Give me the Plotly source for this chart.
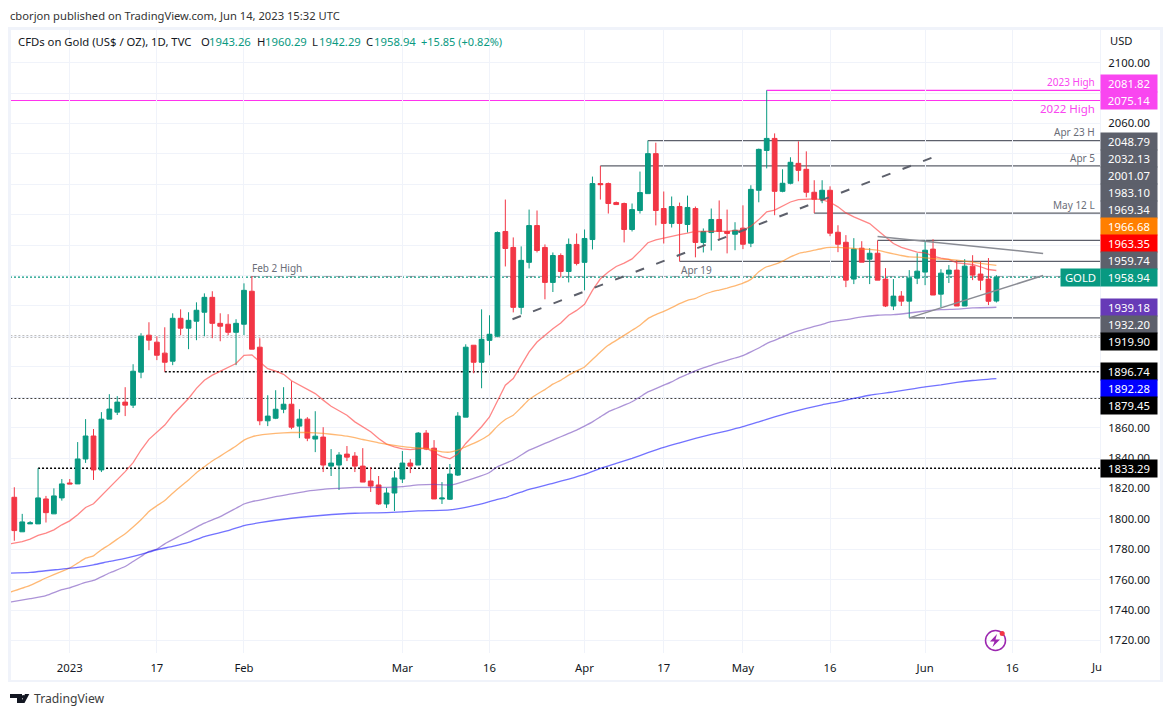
import plotly.graph_objects as go

# daily candles
opens = [1814.2,1791.5,1796.7,1796.7,1813.1,1803.3,1813.8,1823.6,1823.0,1839.4,
         1854.5,1832.2,1865.6,1870.2,1876.8,1874.8,1896.5,1920.8,1916.2,1909.0,
         1903.7,1931.9,1925.4,1930.0,1935.9,1945.7,1928.6,1928.0,1922.7,1928.0,
         1949.7,1912.9,1864.5,1866.2,1872.1,1875.4,1861.0,1865.6,1852.5,1853.8,
         1834.7,1835.4,1842.6,1841.3,1834.7,1824.9,1822.3,1809.8,1817.0,1826.2,
         1836.7,1835.4,1856.4,1846.5,1813.1,1812.9,1828.8,1866.9,1914.2,1903.0,
         1917.4,1920.1,1989.0,1978.5,1939.1,1968.7,1992.9,1978.5,1955.5,1973.2,
         1962.7,1980.5,1968.7,1983.7,2020.5,2020.5,2008.0,2007.4,1990.3,2002.8,
         2013.9,2040.2,2004.1,1994.3,2005.4,1993.6,2004.1,1981.8,1988.3,1996.9,
         1989.0,1987.2,1991.2,1981.3,2016.1,2042.3,2050.2,2015.4,2020.7,2033.8,
         2029.9,2014.8,2010.2,2016.1,1988.5,1981.9,1957.7,1978.0,1970.8,1974.7,
         1957.7,1940.0,1946.5,1943.2,1958.3,1962.3,1977.4,1947.8,1961.0,1963.6,
         1940.0,1966.2,1961.0,1957.7,1943.26]
highs = [1820.8,1803.3,1798.5,1833.3,1815.1,1820.1,1826.2,1826.2,1850.5,1865.6,
         1859.1,1870.2,1882.0,1880.7,1886.6,1901.7,1922.1,1929.3,1920.1,1926.0,
         1935.2,1937.8,1935.9,1942.4,1948.3,1949.7,1935.2,1934.6,1931.3,1954.9,
         1959.74,1918.8,1881.3,1884.6,1886.6,1890.5,1872.1,1866.9,1870.8,1860.3,
         1845.9,1843.9,1847.9,1843.9,1846.5,1834.1,1828.2,1820.3,1831.4,1844.6,
         1839.3,1857.1,1858.4,1851.8,1824.2,1836.1,1870.2,1914.8,1914.2,1937.8,
         1933.9,1989.0,2010.0,1985.1,1979.2,2003.4,2002.8,1980.5,1975.2,1974.6,
         1984.4,1987.7,1990.3,2025.1,2032.13,2021.2,2008.7,2008.0,2007.4,2028.4,
         2048.79,2047.4,2015.3,2012.0,2008.0,2012.6,2005.4,1991.0,2004.1,2009.4,
         2003.4,1995.1,2006.2,2019.4,2043.5,2081.82,2053.5,2029.9,2037.8,2048.3,
         2041.7,2022.7,2022.7,2018.7,1993.1,1986.6,1984.6,1982.6,1978.0,1983.1,
         1964.9,1957.7,1949.8,1963.6,1974.7,1983.3,1983.9,1964.2,1966.9,1970.2,
         1970.8,1973.4,1969.5,1971.5,1960.29]
lows = [1785.6,1791.5,1796.7,1796.7,1797.6,1803.3,1812.0,1823.0,1823.0,1836.8,
        1825.6,1830.8,1865.6,1868.3,1867.6,1872.9,1892.5,1910.9,1904.4,1896.74,
        1901.1,1920.8,1911.6,1917.5,1920.1,1918.8,1916.8,1920.8,1901.1,1920.8,
        1911.6,1861.6,1861.0,1865.6,1869.5,1859.0,1853.1,1851.1,1843.9,1830.8,
        1828.2,1819.0,1838.0,1830.8,1824.2,1817.7,1809.1,1807.2,1805.2,1823.6,
        1830.1,1835.4,1845.2,1813.1,1809.8,1812.4,1828.2,1866.9,1895.8,1885.9,
        1907.6,1919.4,1966.0,1935.8,1934.5,1964.7,1975.2,1944.4,1949.2,1958.8,
        1955.5,1966.7,1950.3,1977.2,2010.0,2000.8,2006.7,1981.8,1989.0,2000.8,
        2013.9,1993.0,1981.1,1991.6,1969.34,1988.3,1972.0,1975.2,1976.5,1983.1,
        1974.6,1976.7,1977.4,1978.7,2008.2,2030.5,1999.7,2014.8,2020.0,2022.0,
        2011.5,2001.07,2007.6,1985.9,1975.4,1952.4,1954.4,1968.8,1954.4,1957.0,
        1939.3,1937.3,1940.0,1932.2,1954.4,1953.7,1947.2,1939.3,1955.1,1940.0,
        1940.0,1957.0,1950.4,1940.6,1942.29]
closes = [1792.3,1798.0,1797.4,1813.8,1804.1,1815.1,1823.0,1823.0,1839.4,1854.5,
          1832.2,1865.6,1872.2,1876.8,1874.8,1897.1,1920.1,1917.5,1907.6,1903.0,
          1931.9,1925.4,1930.6,1937.2,1945.7,1928.6,1926.7,1922.7,1928.6,1950.3,
          1911.6,1864.5,1867.6,1872.1,1875.4,1860.3,1865.6,1853.1,1854.4,1835.4,
          1836.7,1842.0,1840.6,1834.7,1824.2,1821.6,1809.8,1817.0,1826.9,1836.7,
          1834.7,1856.4,1845.9,1813.1,1813.7,1829.5,1867.6,1912.9,1903.0,1918.1,
          1921.4,1988.3,1977.8,1939.1,1970.0,1992.9,1976.5,1955.5,1973.2,1962.7,
          1980.5,1968.0,1984.4,2020.5,2019.8,2007.4,2006.7,1990.3,2003.4,2014.6,
          2040.2,2002.8,1994.3,2005.4,1994.3,2004.8,1981.8,1989.0,1996.9,1989.0,
          1987.7,1989.8,1980.6,2016.7,2043.0,2050.2,2015.4,2020.7,2034.5,2029.2,
          2014.8,2010.2,2016.1,1987.9,1980.6,1957.0,1977.4,1968.8,1974.7,1957.0,
          1940.0,1946.5,1943.2,1958.3,1962.9,1976.7,1947.2,1961.6,1963.6,1940.0,
          1966.2,1960.3,1957.0,1943.1,1958.94]
bars = list(range(len(closes)))

# moving averages
red_bars = list(range(-1, 125))
red_values = [1783.2,1784.1,1785.0,1786.7,1789.1,1790.6,1792.8,1796.1,1798.7,1802.7,1807.5,
              1809.9,1815.1,1820.2,1825.6,1831.1,1837.0,1845.3,1852.3,1857.3,1861.7,
              1868.3,1873.7,1879.2,1885.8,1891.2,1894.5,1897.1,1899.5,1902.2,1907.6,
              1907.9,1903.2,1898.8,1897.1,1895.1,1890.8,1887.9,1885.3,1882.4,1878.1,
              1874.1,1871.1,1868.2,1863.8,1860.6,1857.3,1852.9,1849.2,1847.4,1846.1,
              1845.5,1846.3,1846.6,1843.5,1840.9,1839.5,1842.6,1849.6,1855.1,1860.6,
              1867.0,1878.0,1887.9,1892.3,1901.0,1909.8,1916.3,1920.7,1925.1,1928.8,
              1933.9,1937.1,1941.1,1950.3,1957.9,1962.3,1966.0,1968.2,1971.0,1976.1,
              1981.6,1983.5,1984.6,1986.2,1987.0,1987.9,1989.0,1989.0,1989.2,1989.2,
              1989.0,1989.7,1989.7,1992.5,1996.8,2001.9,2003.0,2005.6,2008.4,2010.0,
              2010.4,2010.4,2010.0,2008.2,2005.2,2001.2,1998.6,1996.4,1994.2,1989.8,
              1985.5,1981.1,1978.5,1976.7,1975.4,1975.0,1972.8,1971.5,1970.6,1968.4,
              1968.0,1967.3,1965.8,1964.0,1963.35]
orange_bars = [-1,2,4,6,7,8,9,10,11,12,13,14,15,16,17,18,19,20,21,22,23,24,25,26,27,28,29,30,31,32,
               34,35,37,38,39,41,42,44,46,48,50,52,54,55,56,57,58,59,60,61,62,63,64,65,66,67,68,69,
               70,71,72,73,74,75,76,77,78,79,80,81,82,83,84,85,86,87,88,89,90,91,92,93,94,95,96,97,
               98,99,100,101,102,103,104,105,106,107,108,109,110,111,112,113,114,115,116,117,118,
               119,120,121,122,123,124]
orange_values = [1751.0,1756.3,1761.1,1765.5,1767.7,1770.9,1774.2,1775.7,1779.7,1783.0,1786.7,1790.2,
                 1794.6,1799.4,1804.9,1808.6,1812.1,1816.9,1821.3,1825.6,1830.4,1834.3,1838.1,1841.3,
                 1844.6,1847.9,1851.8,1854.0,1855.1,1855.7,1856.6,1856.8,1856.8,1856.6,1856.2,1855.1,
                 1854.4,1852.2,1850.0,1848.3,1847.0,1846.3,1844.1,1843.9,1845.2,1847.4,1849.6,1852.2,
                 1855.5,1861.0,1865.4,1868.2,1873.2,1878.5,1882.0,1885.0,1888.6,1891.2,1894.5,1897.3,
                 1899.9,1904.8,1909.8,1914.2,1917.4,1920.7,1924.0,1927.3,1931.7,1934.3,1936.5,1938.9,
                 1941.5,1943.7,1945.0,1947.4,1949.2,1950.5,1951.8,1953.3,1955.0,1957.5,1962.5,1965.8,
                 1967.3,1969.5,1972.3,1974.5,1975.6,1976.7,1977.8,1978.5,1978.5,1978.2,1977.8,1977.4,
                 1977.2,1976.7,1975.4,1974.3,1973.2,1972.3,1972.1,1971.7,1971.2,1970.8,1970.6,1970.1,
                 1969.5,1968.8,1968.0,1967.3,1966.68]
purple_bars = [-1,2,4,6,7,9,10,12,14,15,16,17,18,19,21,23,24,26,28,29,30,31,33,35,37,39,41,43,45,47,49,
               51,53,55,56,58,60,61,62,63,64,65,66,67,68,69,70,71,72,73,74,75,76,77,78,79,80,81,82,83,
               84,85,86,87,88,89,90,91,92,93,94,95,96,97,98,99,100,101,102,103,105,107,109,111,113,115,
               117,119,121,124]
purple_values = [1744.8,1747.5,1749.5,1753.4,1754.7,1758.2,1759.5,1764.4,1768.7,1772.0,1775.3,1778.6,
                 1780.1,1783.6,1789.1,1794.6,1797.2,1801.5,1807.0,1809.8,1811.4,1812.4,1814.6,1816.4,
                 1818.3,1819.4,1820.1,1820.7,1820.7,1820.7,1821.2,1822.3,1822.7,1822.3,1823.4,1826.6,
                 1830.5,1834.3,1836.5,1838.7,1842.0,1845.2,1847.4,1849.6,1851.8,1854.0,1856.2,1858.4,
                 1861.0,1863.8,1867.1,1870.4,1872.6,1874.8,1877.0,1880.2,1883.5,1885.7,1887.9,1890.1,
                 1892.9,1895.1,1897.3,1899.3,1901.0,1902.8,1904.3,1905.8,1907.4,1909.8,1912.4,1915.3,
                 1917.4,1919.6,1921.8,1923.6,1925.1,1926.6,1927.9,1929.5,1931.0,1932.8,1933.9,1934.3,
                 1935.4,1936.7,1937.6,1938.0,1938.7,1939.18]
blue_bars = [-1,2,6,8,10,12,14,16,18,20,22,24,27,29,31,35,39,43,47,51,55,57,59,61,62,63,64,65,68,70,72,
             74,76,78,80,82,84,86,88,90,92,94,96,98,100,102,104,106,108,111,113,115,117,119,121,124]
blue_values = [1764.3,1764.8,1767.0,1768.1,1769.8,1772.0,1774.0,1776.6,1779.7,1781.9,1784.5,1788.4,
               1792.3,1795.6,1797.5,1800.4,1802.4,1803.7,1804.1,1805.2,1805.9,1807.6,1809.8,1812.9,
               1814.0,1816.0,1817.6,1819.4,1823.4,1826.2,1829.3,1833.2,1836.5,1839.8,1843.5,1847.0,
               1850.0,1852.9,1855.5,1857.9,1860.6,1863.8,1867.1,1870.0,1872.6,1875.0,1877.0,1879.2,
               1881.3,1883.5,1885.1,1886.8,1888.1,1889.7,1891.0,1892.28]

# horizontal levels: start bar, price
solid_gray_bars = [80, 74, 101, 109, 84, 113]
solid_gray_levels = [2048.79, 2032.13, 2001.07, 1983.10, 1969.34, 1932.20]
pink_bars = [95, -1]
pink_levels = [2081.82, 2075.14]
black_bars = [-1, 19, -1, 3]
black_levels = [1919.90, 1896.74, 1879.45, 1833.29]
feb_high_bar = 30
feb_high_level = 1959.74
last_close = 1958.94

# trend lines: bar0, price0, bar1, price1
dashed_trend = [62.9, 1931.3, 115.8, 2037.4]
falling_trend = [109, 1985.7, 129.9, 1974.6]
rising_trend = [113, 1932.2, 129.9, 1960.0]

x_tick_bars = [7, 18, 29, 49, 60, 72, 82, 92, 103, 115, 126, 137]
x_tick_labels = ["2023", "17", "Feb", "Mar", "16", "Apr", "17", "May", "16", "Jun", "16", ""]
y_tick_values = list(range(1720, 2101, 20))
# labels that sit fully under a price box stay blank
y_tick_hidden = [1880, 1920, 1940, 1960, 1980, 2000, 2020, 2080]
y_tick_labels = ["" if v in y_tick_hidden else f"{v}.00" for v in y_tick_values]

# boxes on the price scale, de-collided like on the original
box_labels = ["2081.82", "2075.14", "2048.79", "2032.13", "2001.07", "1983.10", "1969.34", "1966.68",
              "1963.35", "1959.74", "1958.94", "1939.18", "1932.20", "1919.90", "1896.74", "1892.28",
              "1879.45", "1833.29"]
box_colors = ["#f946f0", "#f946f0", "#5d606b", "#5d606b", "#5d606b", "#5d606b", "#5d606b", "#ff7f00",
              "#ff0000", "#5d606b", "#089981", "#673ab7", "#5d606b", "#000000", "#000000", "#0000ff",
              "#000000", "#000000"]
box_y = [83, 100.4, 141, 158.7, 175.7, 192.7, 209.7, 226.7, 243.7, 260.7, 277.7, 307.7, 324.7, 341.7,
         371.7, 388.7, 405.5, 468.7]

note_labels = ["2023 High", "2022 High", "Apr 23 H", "Apr 5", "May 12 L"]
note_colors = ["#f946f0", "#f946f0", "#6a6d78", "#6a6d78", "#6a6d78"]
note_y = [81.7, 109, 131.7, 157.7, 204.7]
note_size = [10, 11.5, 10, 10, 10]

FONT = "Noto Sans"
GREEN = "#089981"
RED = "#f23645"
FRAME = "#f0f3fa"
GRID = "#f0f3fa"
TEXT = "#131722"

# plot area in page pixels
L, R, T, B = 10, 1100, 30, 653
y_top = 2121.5
y_bottom = 1711.8
x_left = (L - 14.3) / 7.92
x_right = (R - 14.3) / 7.92


def px(x):
    return (x - L) / (R - L)


def py(y):
    return (B - y) / (B - T)


fig = go.Figure()

fig.add_trace(go.Candlestick(
    x=bars, open=opens, high=highs, low=lows, close=closes,
    increasing=dict(line=dict(color=GREEN, width=1), fillcolor=GREEN),
    decreasing=dict(line=dict(color=RED, width=1), fillcolor=RED),
    whiskerwidth=0, showlegend=False, hoverinfo="skip"
))

fig.add_trace(go.Scatter(x=red_bars, y=red_values, mode="lines", line=dict(color="rgba(255,60,60,0.62)", width=1.3), showlegend=False))
fig.add_trace(go.Scatter(x=orange_bars, y=orange_values, mode="lines", line=dict(color="rgba(255,140,30,0.62)", width=1.3, shape="spline", smoothing=0.5), showlegend=False))
fig.add_trace(go.Scatter(x=purple_bars, y=purple_values, mode="lines", line=dict(color="rgba(103,58,183,0.55)", width=1.3, shape="spline", smoothing=0.5), showlegend=False))
fig.add_trace(go.Scatter(x=blue_bars, y=blue_values, mode="lines", line=dict(color="rgba(20,20,255,0.6)", width=1.3, shape="spline", smoothing=0.5), showlegend=False))

shapes = []


def hline(bar, level, color, dash="solid", width=1.2):
    shapes.append(dict(type="line", xref="x", yref="y", x0=bar, x1=x_right, y0=level, y1=level,
                       line=dict(color=color, width=width, dash=dash), layer="below"))


for b, v in zip(solid_gray_bars, solid_gray_levels):
    hline(b, v, "#5d606b")
for b, v in zip(pink_bars, pink_levels):
    hline(b, v, "#ff33ee")
for b, v in zip(black_bars, black_levels):
    hline(b, v, "#000000", dash="2px,2px", width=1.5)
hline(x_left, last_close, GREEN, dash="2px,2px", width=1.2)
hline(feb_high_bar, feb_high_level, "#5d606b", dash="7px,5px", width=1.2)

for t, color, dash, w in [(dashed_trend, "#5d606b", "9px,13px", 2),
                          (falling_trend, "#8a8c94", "solid", 1.5),
                          (rising_trend, "#8a8c94", "solid", 1.5)]:
    shapes.append(dict(type="line", xref="x", yref="y", x0=t[0], y0=t[1], x1=t[2], y1=t[3],
                       line=dict(color=color, width=w, dash=dash), layer="above"))

# frame around the chart
for x0, y0, x1, y1 in [(8, 27, 11, 682), (1160, 27, 1163, 682), (8, 27, 1163, 30), (8, 680, 1163, 682)]:
    shapes.append(dict(type="rect", xref="paper", yref="paper", x0=px(x0), x1=px(x1), y0=py(y0), y1=py(y1),
                       fillcolor=FRAME, line=dict(width=0), layer="above"))

# lightning badge
shapes.append(dict(type="circle", xref="paper", yref="paper", x0=px(985.5), x1=px(1005.5), y0=py(650.5), y1=py(630.5),
                   line=dict(color="#9c27b0", width=1.5), fillcolor="rgba(0,0,0,0)"))
bolt = [(997, 634), (990, 641.5), (994.5, 641.5), (992.5, 647), (1000, 639.5), (995.5, 639.5)]
shapes.append(dict(type="path", xref="paper", yref="paper",
                   path="M" + "L".join(f"{px(a):.5f},{py(b):.5f}" for a, b in bolt) + "Z",
                   fillcolor="#9c27b0", line=dict(width=0)))
shapes.append(dict(type="circle", xref="paper", yref="paper", x0=px(999.7), x1=px(1004.7), y0=py(636), y1=py(631),
                   fillcolor=RED, line=dict(width=0)))

# TradingView logo
logo = [[(10, 694), (22, 694), (22, 703), (17, 703), (17, 698), (10, 698)],
        [(29.3, 694), (24.5, 703), (20.5, 703), (25, 694)]]
for part in logo:
    shapes.append(dict(type="path", xref="paper", yref="paper",
                       path="M" + "L".join(f"{px(a):.5f},{py(b):.5f}" for a, b in part) + "Z",
                       fillcolor="#131722", line=dict(width=0)))
shapes.append(dict(type="circle", xref="paper", yref="paper", x0=px(21.5), x1=px(25), y0=py(698.5), y1=py(695),
                   fillcolor="#131722", line=dict(width=0)))

annotations = []


def text_at(x, y, text, color=TEXT, size=12, anchor="left", **kw):
    annotations.append(dict(xref="paper", yref="paper", x=px(x), y=py(y), text=text, showarrow=False,
                            xanchor=anchor, yanchor="middle", align=anchor,
                            font=dict(family=FONT, size=size, color=color), **kw))


text_at(8, 15, "cborjon published on TradingView.com, Jun 14, 2023 15:32 UTC", color="#333333", size=11.2)
text_at(16, 41.5, "CFDs on Gold (US$ / OZ), 1D, TVC", size=11.3)
header_labels = ["O", "H", "L", "C"]
header_values = ["1943.26", "1960.29", "1942.29", "1958.94"]
for x_l, x_v, lab, val in zip([199, 255, 310, 364], [207, 263, 317, 372], header_labels, header_values):
    text_at(x_l, 41.5, lab, size=11.3)
    text_at(x_v, 41.5, val, color=GREEN, size=11.3)
text_at(419, 41.5, "+15.85 (+0.82%)", color=GREEN, size=11)

text_at(1121, 41, "USD", anchor="center", size=11.2)
text_at(277, 268, "Feb 2 High", color="#6a6d78", size=10, anchor="center")
text_at(696.5, 270, "Apr 19", color="#6a6d78", size=10, anchor="center")
for lab, col, y, s in zip(note_labels, note_colors, note_y, note_size):
    text_at(1097, y, lab, color=col, size=s, anchor="right")

for lab, col, y in zip(box_labels, box_colors, box_y):
    text_at(1129, y, lab, color="#ffffff", anchor="center", bgcolor=col, width=56, height=16.5, size=11.3, borderpad=0)
text_at(1080.5, 277.7, "GOLD", color="#ffffff", anchor="center", bgcolor=GREEN, width=39, height=16.5, size=11.3, borderpad=0)

text_at(1096, 666.5, "Ju", anchor="center", size=11.3)
text_at(32, 698.5, "TradingView", color="#3d3d3d", size=12.2)

fig.update_layout(
    width=1171, height=716, autosize=False,
    margin=dict(l=L, r=1171 - R, t=T, b=716 - B, pad=0),
    paper_bgcolor="#ffffff", plot_bgcolor="#ffffff",
    font=dict(family=FONT, size=12, color=TEXT),
    showlegend=False, shapes=shapes, annotations=annotations,
    boxmode="overlay", boxgap=0.4, boxgroupgap=0,
    xaxis=dict(range=[x_left, x_right], tickmode="array", tickvals=x_tick_bars, ticktext=x_tick_labels,
               rangeslider=dict(visible=False), showgrid=True, gridcolor=GRID, gridwidth=1, zeroline=False,
               ticks="outside", ticklen=4, tickcolor="rgba(0,0,0,0)", tickfont=dict(size=11.3, color=TEXT, family=FONT)),
    yaxis=dict(range=[y_bottom, y_top], side="right", tickmode="array", tickvals=y_tick_values, ticktext=y_tick_labels,
               showgrid=True, gridcolor=GRID, gridwidth=1, zeroline=False, showline=True, linecolor=FRAME,
               ticks="outside", ticklen=5, tickcolor="rgba(0,0,0,0)", tickfont=dict(size=11.3, color=TEXT, family=FONT)),
)

fig.write_html("out.html", config={"displayModeBar": False}, post_script="document.body.style.margin='0';")
